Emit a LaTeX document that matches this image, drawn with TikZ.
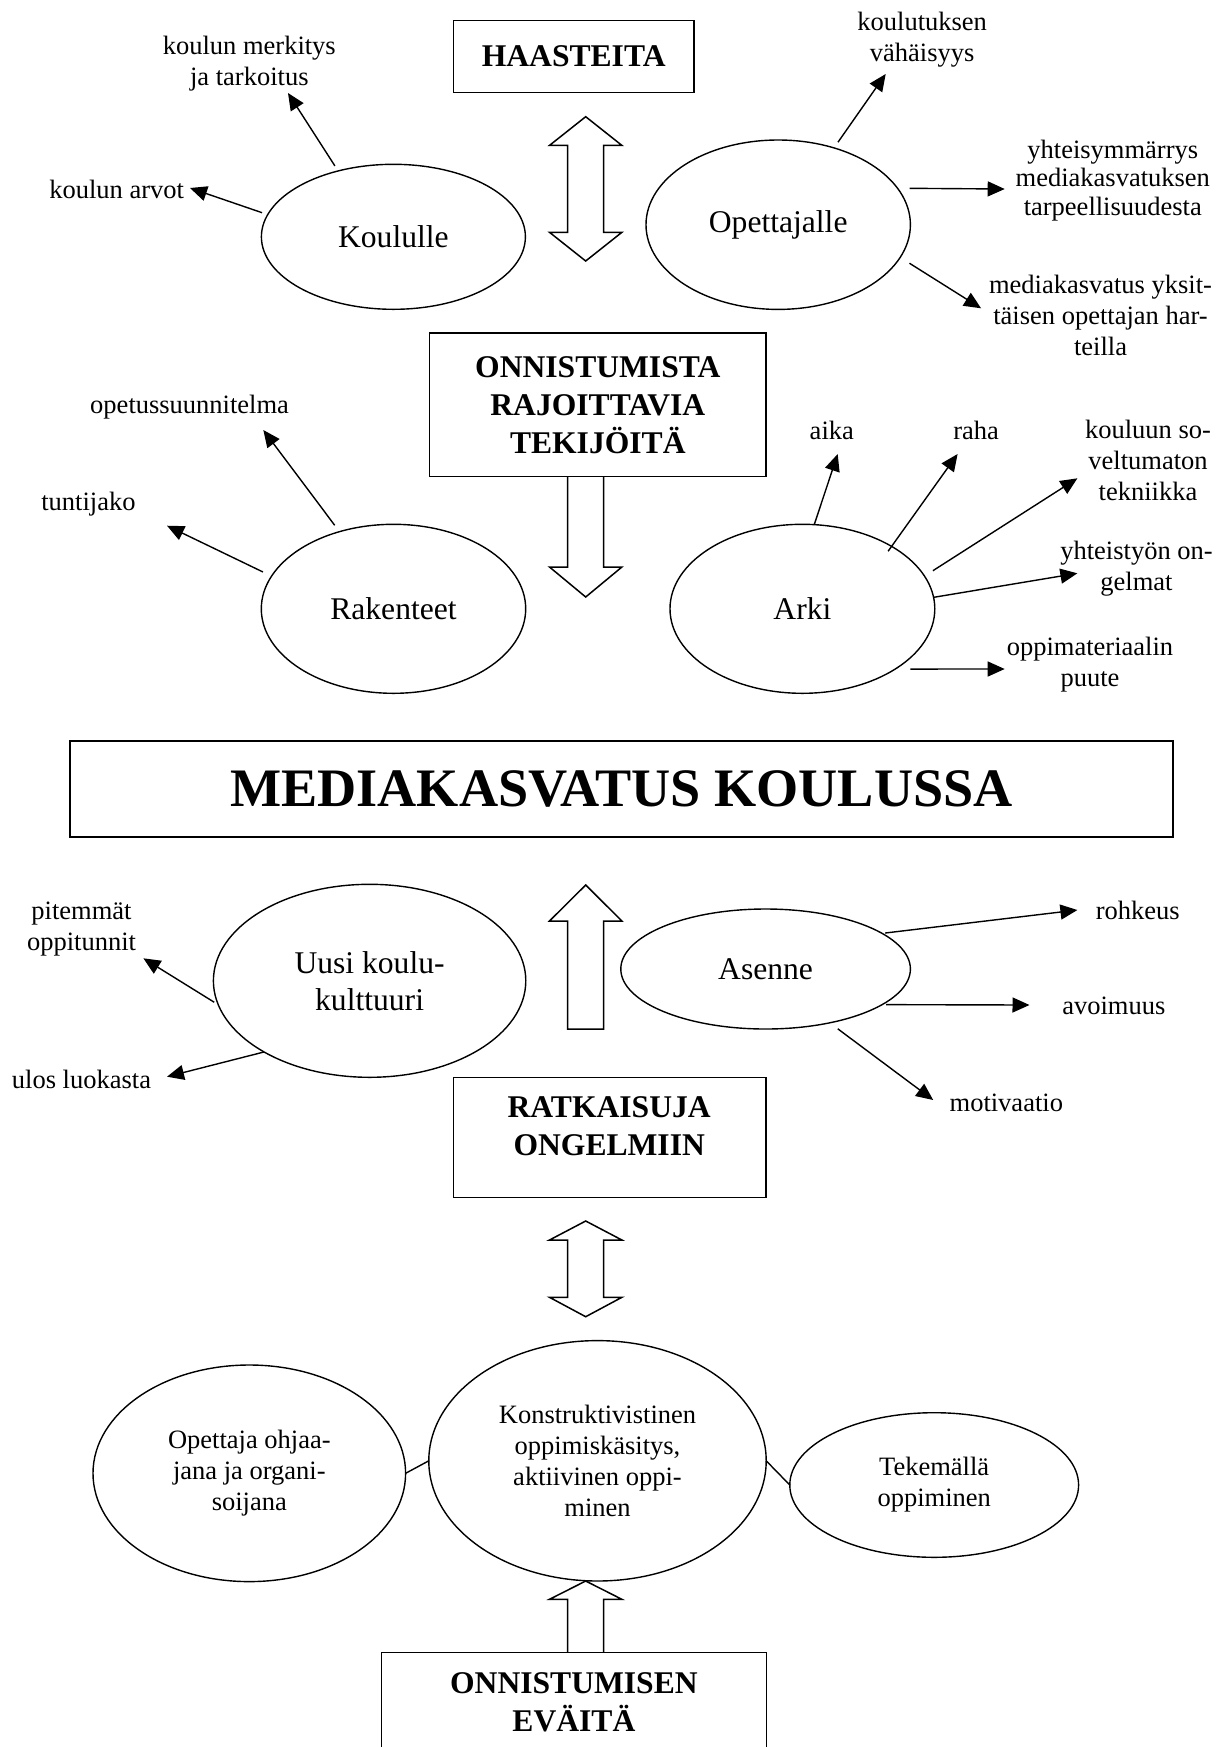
\documentclass[tikz,border=0pt]{standalone}
\usepackage{fontspec}
\setmainfont{Liberation Serif}
\usetikzlibrary{arrows.meta,shapes.geometric}

\begin{document}
\begin{tikzpicture}[x=0.5pt,y=-0.5pt,
		lbl/.style={align=center, inner sep=0pt, font=\fontsize{13.25pt}{15.5pt}\selectfont},
		oval/.style={draw, ellipse, line width=0.7pt, inner sep=0pt, outer sep=0pt, align=center,
			font=\fontsize{15.8pt}{18.4pt}\selectfont},
		smalloval/.style={oval, font=\fontsize{13.25pt}{15.5pt}\selectfont},
		box/.style={draw, rectangle, line width=0.75pt, inner sep=0pt, align=center,
			font=\bfseries\fontsize{15.8pt}{19pt}\selectfont},
		arr/.style={-{Triangle[length=8.5pt,width=7.5pt]}, line width=0.7pt},
		link/.style={line width=0.7pt},
		blockarr/.style={draw, fill=white, line width=0.75pt, line join=miter}]
		\useasboundingbox (0,0) rectangle (1216,1747);
		\clip (0,0) rectangle (1216,1747);
		% hollow arrows
		\foreach \ya/\yb/\yc/\yd in {116.7/145.4/232.3/261, 1221/1240/1297.3/1316.7}
			\draw[blockarr] (585.7,\ya) -- (621.9,\yb) -- (603.7,\yb) -- (603.7,\yc) -- (621.9,\yc)
				-- (585.7,\yd) -- (549.5,\yc) -- (567.7,\yc) -- (567.7,\yb) -- (549.5,\yb) -- cycle;
		\draw[blockarr] (567.7,476.4) -- (567.7,567) -- (549.5,567) -- (585.7,597)
			-- (621.9,567) -- (603.7,567) -- (603.7,476.4);
		\draw[blockarr] (585.7,885) -- (621.9,921) -- (603.7,921) -- (603.7,1029)
			-- (567.7,1029) -- (567.7,921) -- (549.5,921) -- cycle;
		\draw[blockarr] (567.7,1652.7) -- (567.7,1599.3) -- (549.5,1599.3) -- (585.7,1581)
			-- (621.9,1599.3) -- (603.7,1599.3) -- (603.7,1652.7);
		% haasteita
		\node[box, minimum width=120.4pt, minimum height=36.2pt] (haast) at (573.7,56.5) {HAASTEITA};
		\node[oval, minimum width=132pt, minimum height=72.5pt] (koul) at (393.4,236.8) {Koululle};
		\node[oval, minimum width=132.2pt, minimum height=84.7pt] (opet) at (778.2,224.7) {Opettajalle};
		\node[lbl] (merk) at (249.3,63.8) {koulun merkitys\\ja tarkoitus};
		\node[lbl] (arvot) at (116.7,189.9) {koulun arvot};
		\node[lbl] (koulut) at (922.2,39.6) {koulutuksen\\vähäisyys};
		\node[lbl, font=\fontsize{13.25pt}{14.25pt}\selectfont] (yhteis) at (1112.8,180.2)
			{yhteisymmärrys\\mediakasvatuksen\\tarpeellisuudesta};
		\node[lbl] (yksit) at (1100.5,315) {mediakasvatus yksit-\\täisen opettajan har-\\teilla};
		\coordinate (merkT) at (288,93);
		\coordinate (arvotT) at (190,188);
		\coordinate (koulutT) at (885.7,74);
		\coordinate (yhteisT) at (1004.7,189);
		\coordinate (yksitT) at (981.1,308.3);
		\draw[arr, shorten <=3pt] (koul.130) -- (merkT);
		\draw[arr, shorten <=3pt] (koul.170) -- (arvotT);
		\draw[arr, shorten <=3.5pt] (opet.54) -- (koulutT);
		\draw[arr, shorten <=6pt] (opet.17) -- (yhteisT);
		\draw[arr, shorten <=5.5pt] (opet.-15) -- (yksitT);
		% rajoittavat tekijat
		\node[box, minimum width=168.2pt, minimum height=71.7pt] (onn) at (597.8,404.7)
			{ONNISTUMISTA\\RAJOITTAVIA\\TEKIJÖITÄ};
		\node[oval, minimum width=132.2pt, minimum height=84.5pt] (rak) at (393.5,608.8) {Rakenteet};
		\node[oval, minimum width=132.4pt, minimum height=84.5pt] (arki) at (802.4,608.8) {Arki};
		\node[lbl] (ops) at (189.6,407) {opetussuunnitelma};
		\node[lbl] (tunti) at (88.4,503.8) {tuntijako};
		\node[lbl] (aika) at (831.8,430.2) {aika};
		\node[lbl] (raha) at (976.2,430.2) {raha};
		\node[lbl] (tekni) at (1148,460.5) {kouluun so-\\veltumaton\\tekniikka};
		\node[lbl] (yhtei) at (1136.5,568.8) {yhteistyön on-\\gelmat};
		\node[lbl] (oppim) at (1090,664.7) {oppimateriaalin\\puute};
		\coordinate (opsT) at (263.3,430);
		\coordinate (tuntiT) at (167,525.7);
		\coordinate (aikaT) at (837.7,454);
		\coordinate (rahaT) at (957.6,454);
		\coordinate (tekniT) at (1077.4,478.3);
		\coordinate (yhteiT) at (1077.4,573.3);
		\coordinate (oppimT) at (1004.7,669);
		\draw[arr, shorten <=4pt] (rak.125) -- (opsT);
		\draw[arr, shorten <=4.8pt] (rak.165) -- (tuntiT);
		\draw[arr] (arki.82) -- (aikaT);
		\draw[arr, shorten <=-3pt] (arki.35) -- (rahaT);
		\draw[arr, shorten <=5pt] (arki.15) -- (tekniT);
		\draw[arr] (arki.5) -- (yhteiT);
		\draw[arr, shorten <=7.6pt] (arki.-33) -- (oppimT);
		% main title
		\node[box, minimum width=551.5pt, minimum height=48pt,
			font=\bfseries\fontsize{27.1pt}{30pt}\selectfont] (media) at (621.5,789) {MEDIAKASVATUS KOULUSSA};
		% ratkaisut
		\node[oval, minimum width=156.2pt, minimum height=96.5pt] (uusi) at (369.6,980.8) {Uusi koulu-\\kulttuuri};
		\node[oval, minimum width=144.8pt, minimum height=60pt] (asen) at (765.6,969) {Asenne};
		\node[lbl] (pit) at (81.5,928.8) {pitemmät\\oppitunnit};
		\node[lbl] (ulos) at (81.5,1079.2) {ulos luokasta};
		\node[lbl] (rohk) at (1137.7,910.2) {rohkeus};
		\node[lbl] (avo) at (1113.8,1005.8) {avoimuus};
		\node[lbl] (mot) at (1006.3,1102.5) {motivaatio};
		\coordinate (pitT) at (143.4,958.3);
		\coordinate (ulosT) at (167,1076.7);
		\coordinate (rohkT) at (1077.4,910);
		\coordinate (avoT) at (1029.5,1005);
		\coordinate (motT) at (933.2,1100);
		\draw[arr, shorten <=2.4pt] (uusi.-171) -- (pitT);
		\draw[arr] (uusi.-146) -- (ulosT);
		\draw[arr, shorten <=1.5pt] (asen.17) -- (rohkT);
		\draw[arr, shorten <=2pt] (asen.-17) -- (avoT);
		\draw[arr, shorten <=5pt] (asen.-40) -- (motT);
		\node[box, minimum width=156.4pt, minimum height=60pt] (ratk) at (609.7,1137.3) {};
		\node[box, draw=none] (ratkT) at (609.2,1126.2) {RATKAISUJA\\ONGELMIIN};
		% onnistumisen evaat
		\node[smalloval, minimum width=156.3pt, minimum height=108.3pt] (ohj) at (249.3,1473.3)
			{Opettaja ohjaa-\\jana ja organi-\\soijana};
		\node[smalloval, minimum width=168.7pt, minimum height=120.2pt] (kons) at (597.5,1460.8)
			{Konstruktivistinen\\oppimiskäsitys,\\aktiivinen oppi-\\minen};
		\node[smalloval, minimum width=144.4pt, minimum height=72.3pt] (tek) at (934.2,1485)
			{Tekemällä\\oppiminen};
		\draw[link] (ohj.east) -- (kons.west);
		\draw[link] (kons.east) -- (tek.west);
		\node[box, minimum width=192.4pt, minimum height=49.3pt] (evait) at (573.9,1702)
			{ONNISTUMISEN\\EVÄITÄ};
	\end{tikzpicture}
\end{document}
